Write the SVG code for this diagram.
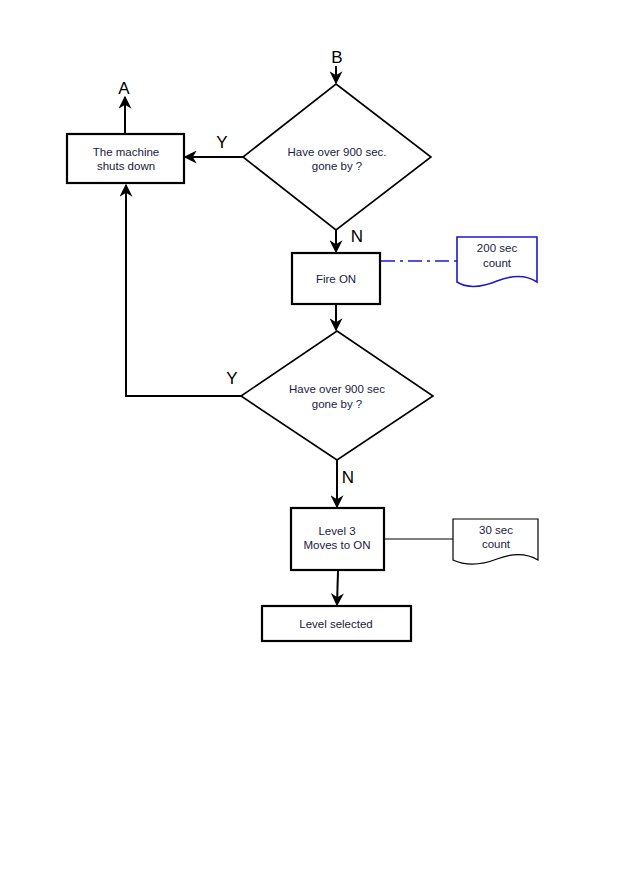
<svg xmlns="http://www.w3.org/2000/svg" width="629" height="893" viewBox="0 0 629 893">
<defs>
<marker id="ah" viewBox="0 0 10 10" refX="9" refY="5" markerWidth="13" markerHeight="13" markerUnits="userSpaceOnUse" orient="auto">
<path d="M0,0 L10,5 L0,10 L3,5 Z" fill="#000"/>
</marker>
</defs>
<style>
.box{fill:#fff;stroke:#000;stroke-width:2.2}
.dia{fill:#fff;stroke:#000;stroke-width:1.6}
.doc{fill:#fff;stroke:#000;stroke-width:1.2}
.docb{fill:#fff;stroke:#1a1acc;stroke-width:1.6}
.t{font-family:"Liberation Sans",Arial,sans-serif;font-size:11.5px;fill:#1a1a40;text-anchor:middle}
.lbl{font-family:"Liberation Sans",Arial,sans-serif;font-size:17px;fill:#000;text-anchor:middle}
.ln{fill:none;stroke:#000;stroke-width:2}
</style>
<rect width="629" height="893" fill="#fff"/>
<g id="connectors">
<line class="ln" x1="336" y1="66" x2="336" y2="83" marker-end="url(#ah)"/>
<line class="ln" x1="243" y1="157" x2="185" y2="157" marker-end="url(#ah)"/>
<line class="ln" x1="125" y1="134" x2="125" y2="97" marker-end="url(#ah)"/>
<line class="ln" x1="336" y1="230" x2="336" y2="252" marker-end="url(#ah)"/>
<line x1="381" y1="261" x2="457" y2="261" stroke="#1a1acc" stroke-width="1.6" stroke-dasharray="14,5,3,5"/>
<line class="ln" x1="336" y1="305" x2="336" y2="330" marker-end="url(#ah)"/>
<polyline class="ln" points="241,396 126,396 126,185" marker-end="url(#ah)"/>
<line class="ln" x1="337" y1="460" x2="337" y2="507" marker-end="url(#ah)"/>
<line x1="384" y1="539" x2="454" y2="539" stroke="#000" stroke-width="1.2"/>
<line class="ln" x1="338" y1="571" x2="337" y2="605" marker-end="url(#ah)"/>
</g>
<g id="labels">
<text class="lbl" x="337" y="63">B</text>
<text class="lbl" x="124" y="94">A</text>
<text class="lbl" x="222" y="148">Y</text>
<text class="lbl" x="357" y="242">N</text>
<text class="lbl" x="232" y="384">Y</text>
<text class="lbl" x="348" y="483">N</text>
</g>
<g id="decision1">
<polygon class="dia" points="336,84 431,157 336,230 243,157"/>
<text class="t" x="337" y="156">Have over 900 sec.</text>
<text class="t" x="337" y="170">gone by ?</text>
</g>
<g id="shutdown">
<rect class="box" x="67" y="134" width="117" height="49"/>
<text class="t" x="126" y="156">The machine</text>
<text class="t" x="126" y="170">shuts down</text>
</g>
<g id="fireon">
<rect class="box" x="292" y="253" width="88" height="51"/>
<text class="t" x="336" y="283">Fire ON</text>
</g>
<g id="doc200">
<path class="docb" d="M457,237 H537 V282 C525,274 510,276 497,281 C485,286 470,290 457,282 Z"/>
<text class="t" x="497" y="252">200 sec</text>
<text class="t" x="497" y="267">count</text>
</g>
<g id="decision2">
<polygon class="dia" points="337,331 433,396 337,460 241,396"/>
<text class="t" x="337" y="393">Have over 900 sec</text>
<text class="t" x="337" y="408">gone by ?</text>
</g>
<g id="level3">
<rect class="box" x="291" y="508" width="93" height="62"/>
<text class="t" x="337" y="535">Level 3</text>
<text class="t" x="337" y="549">Moves to ON</text>
</g>
<g id="doc30">
<path class="doc" d="M453,519 H538 V560 C525,552 510,554 497,559 C484,564 468,567 453,560 Z"/>
<text class="t" x="496" y="534">30 sec</text>
<text class="t" x="496" y="548">count</text>
</g>
<g id="levelselected">
<rect class="box" x="262" y="606" width="149" height="35"/>
<text class="t" x="336" y="628">Level selected</text>
</g>
</svg>
